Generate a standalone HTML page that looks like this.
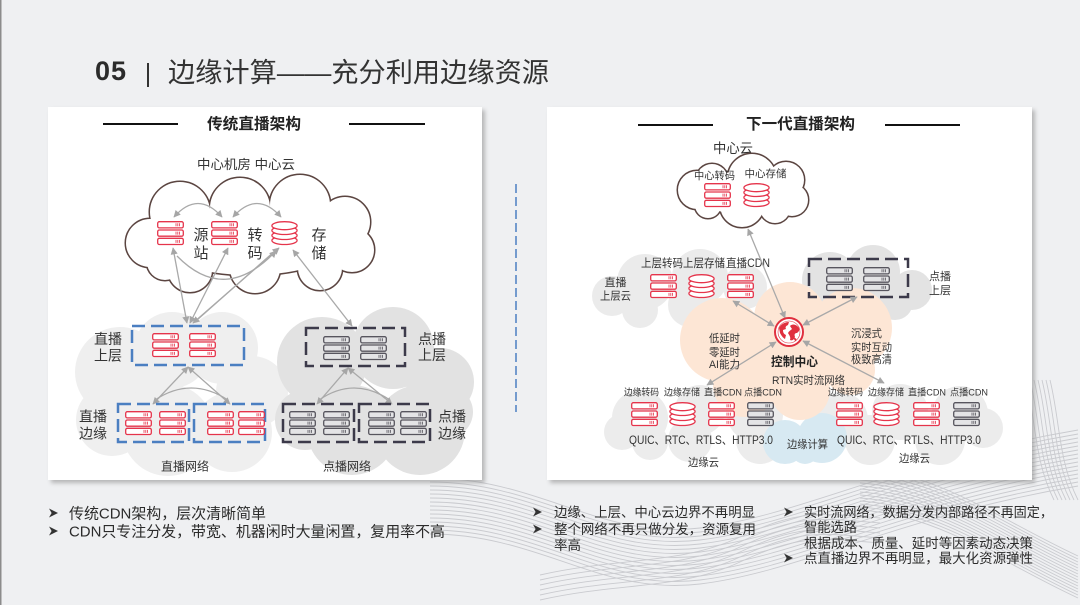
<!DOCTYPE html>
<html><head><meta charset="utf-8">
<style>
html,body{margin:0;padding:0;background:#eff0f2;}
body{width:1080px;height:605px;overflow:hidden;}
svg{display:block;font-family:"Liberation Sans","Noto Sans CJK SC",sans-serif;}
</style></head>
<body>
<svg width="1080" height="605" viewBox="0 0 1080 605" xmlns="http://www.w3.org/2000/svg" xmlns:xlink="http://www.w3.org/1999/xlink">
<defs>
  <filter id="sh" x="-5%" y="-5%" width="110%" height="110%"><feGaussianBlur stdDeviation="2"/></filter>
  <marker id="ah" viewBox="0 0 10 10" refX="9" refY="5" markerWidth="8" markerHeight="7" markerUnits="userSpaceOnUse" orient="auto-start-reverse">
    <path d="M0,0 L10,5 L0,10 z" fill="#a6a6a6"/>
  </marker>
  <g id="sr">
    <rect x="0.7" y="0.7" width="25.6" height="6.2" rx="1.6" fill="#fff" stroke="#e5344b" stroke-width="1.3"/>
    <rect x="0.7" y="9" width="25.6" height="6.2" rx="1.6" fill="#fff" stroke="#e5344b" stroke-width="1.3"/>
    <rect x="0.7" y="17.3" width="25.6" height="6.2" rx="1.6" fill="#fff" stroke="#e5344b" stroke-width="1.3"/>
    <path d="M19,2.3v3M20.8,2.3v3M22.6,2.3v3M19,10.6v3M20.8,10.6v3M22.6,10.6v3M19,18.9v3M20.8,18.9v3M22.6,18.9v3" stroke="#e5344b" stroke-width="0.8"/>
  </g>
  <g id="sg">
    <rect x="0.7" y="0.7" width="25.6" height="6.2" rx="1.6" fill="#e4e4e6" stroke="#57555e" stroke-width="1.3"/>
    <rect x="0.7" y="9" width="25.6" height="6.2" rx="1.6" fill="#e4e4e6" stroke="#57555e" stroke-width="1.3"/>
    <rect x="0.7" y="17.3" width="25.6" height="6.2" rx="1.6" fill="#e4e4e6" stroke="#57555e" stroke-width="1.3"/>
    <path d="M19,2.3v3M20.8,2.3v3M22.6,2.3v3M19,10.6v3M20.8,10.6v3M22.6,10.6v3M19,18.9v3M20.8,18.9v3M22.6,18.9v3" stroke="#57555e" stroke-width="0.8"/>
  </g>
  <g id="db" fill="#fff" stroke="#e5344b" stroke-width="1.3">
    <ellipse cx="13.5" cy="19.5" rx="12.6" ry="4"/>
    <ellipse cx="13.5" cy="14.5" rx="12.6" ry="4"/>
    <ellipse cx="13.5" cy="9.5" rx="12.6" ry="4"/>
    <ellipse cx="13.5" cy="4.7" rx="12.6" ry="4"/>
  </g>
  <path id="wa" d="M430,478 C540,478 600,540 700,528 S900,460 1078,430" fill="none" stroke="#c6c7cc" stroke-width="0.9"/>
  <path id="wb" d="M860,468 C940,473 1000,520 1078,556" fill="none" stroke="#c6c7cc" stroke-width="0.9"/>
  <path id="wc" d="M1050,380 C1060,420 1058,460 1078,500" fill="none" stroke="#c6c7cc" stroke-width="0.9"/>
  <path id="wd" d="M540,600 C620,582 680,590 740,562 S820,538 880,543" fill="none" stroke="#c6c7cc" stroke-width="0.9"/>
  <path id="bul" d="M0,0 L9,4.5 L0,9 L2.6,4.5 Z" fill="#333"/>
</defs>

<rect width="1080" height="605" fill="#eff0f2"/>
<rect x="0" y="0" width="1.5" height="605" fill="#8c8c8c"/>

<!-- decorative waves -->
<g opacity="0.9">
  <use href="#wa"/><use href="#wa" transform="translate(0,4)"/><use href="#wa" transform="translate(0,8)"/><use href="#wa" transform="translate(0,12)"/><use href="#wa" transform="translate(0,16)"/><use href="#wa" transform="translate(0,20)"/><use href="#wa" transform="translate(0,24)"/><use href="#wa" transform="translate(0,28)"/><use href="#wa" transform="translate(0,32)"/><use href="#wa" transform="translate(0,36)"/><use href="#wa" transform="translate(0,40)"/><use href="#wa" transform="translate(0,44)"/><use href="#wa" transform="translate(0,48)"/><use href="#wa" transform="translate(0,52)"/><use href="#wa" transform="translate(0,56)"/>
  <use href="#wb"/><use href="#wb" transform="translate(0,3)"/><use href="#wb" transform="translate(0,6)"/><use href="#wb" transform="translate(0,9)"/><use href="#wb" transform="translate(0,12)"/><use href="#wb" transform="translate(0,15)"/><use href="#wb" transform="translate(0,18)"/><use href="#wb" transform="translate(0,21)"/><use href="#wb" transform="translate(0,24)"/><use href="#wb" transform="translate(0,27)"/><use href="#wb" transform="translate(0,30)"/><use href="#wb" transform="translate(0,33)"/><use href="#wb" transform="translate(0,36)"/><use href="#wb" transform="translate(0,39)"/><use href="#wb" transform="translate(0,42)"/>
  <use href="#wc"/><use href="#wc" transform="translate(-4,0)"/><use href="#wc" transform="translate(-8,0)"/><use href="#wc" transform="translate(-12,0)"/><use href="#wc" transform="translate(-16,0)"/><use href="#wc" transform="translate(-20,0)"/><use href="#wc" transform="translate(-24,0)"/>
  <use href="#wd"/><use href="#wd" transform="translate(0,-5)"/><use href="#wd" transform="translate(0,-10)"/><use href="#wd" transform="translate(0,-15)"/><use href="#wd" transform="translate(0,-20)"/><use href="#wd" transform="translate(0,-25)"/>
</g>

<!-- title -->
<text x="95" y="80" font-size="27" font-weight="bold" fill="#2b2b2b" textLength="31">05</text>
<line x1="148" y1="63" x2="148" y2="87" stroke="#333" stroke-width="2"/>
<text x="168" y="82" font-size="27" fill="#333" textLength="381" lengthAdjust="spacingAndGlyphs">边缘计算——充分利用边缘资源</text>

<!-- panels -->
<rect x="51" y="110" width="434" height="373" fill="#8f8f8f" opacity="0.6" filter="url(#sh)"/>
<rect x="48" y="107" width="434" height="373" fill="#fff"/>
<rect x="550" y="110" width="485" height="373" fill="#8f8f8f" opacity="0.6" filter="url(#sh)"/>
<rect x="547" y="107" width="485" height="373" fill="#fff"/>

<!-- ============ LEFT PANEL ============ -->
<line x1="103" y1="124" x2="178" y2="124" stroke="#111" stroke-width="2"/>
<line x1="349" y1="124" x2="425" y2="124" stroke="#111" stroke-width="2"/>
<text x="254" y="129" font-size="15.5" font-weight="bold" fill="#222" text-anchor="middle" textLength="94" lengthAdjust="spacingAndGlyphs">传统直播架构</text>
<text x="246" y="169" font-size="13" fill="#333" text-anchor="middle" textLength="98" lengthAdjust="spacingAndGlyphs">中心机房 中心云</text>

<!-- top cloud outline -->
<g fill="#fff" stroke="#5b4541" stroke-width="3">
  <circle cx="150" cy="243" r="24"/><circle cx="180" cy="212" r="30"/><circle cx="240" cy="208" r="30"/>
  <circle cx="300" cy="205" r="30"/><circle cx="345" cy="222" r="25"/><circle cx="352" cy="250" r="22"/>
  <circle cx="320" cy="268" r="22"/><circle cx="255" cy="268" r="25"/><circle cx="190" cy="270" r="22"/>
  <circle cx="165" cy="262" r="18"/><ellipse cx="250" cy="240" rx="95" ry="35"/>
</g>
<g fill="#fff">
  <circle cx="150" cy="243" r="24"/><circle cx="180" cy="212" r="30"/><circle cx="240" cy="208" r="30"/>
  <circle cx="300" cy="205" r="30"/><circle cx="345" cy="222" r="25"/><circle cx="352" cy="250" r="22"/>
  <circle cx="320" cy="268" r="22"/><circle cx="255" cy="268" r="25"/><circle cx="190" cy="270" r="22"/>
  <circle cx="165" cy="262" r="18"/><ellipse cx="250" cy="240" rx="95" ry="35"/>
</g>

<!-- lower clouds -->
<g fill="#efefef">
  <circle cx="120" cy="372" r="45"/><circle cx="172" cy="350" r="38"/><circle cx="222" cy="348" r="36"/>
  <circle cx="252" cy="392" r="36"/><circle cx="112" cy="420" r="36"/><circle cx="168" cy="430" r="46"/>
  <circle cx="232" cy="432" r="40"/>
</g>
<g fill="#e2e2e2">
  <circle cx="322" cy="362" r="45"/><circle cx="393" cy="348" r="41"/><circle cx="440" cy="382" r="34"/>
  <circle cx="305" cy="420" r="30"/><circle cx="352" cy="430" r="45"/><circle cx="420" cy="430" r="45"/>
  <circle cx="447" cy="412" r="26"/>
</g>

<!-- top cloud icons -->
<use href="#sr" x="157" y="221"/>
<use href="#sr" x="211" y="221"/>
<use href="#db" x="271" y="221"/>
<g font-size="15" fill="#333" text-anchor="middle">
  <text x="201" y="240">源</text><text x="201" y="258">站</text>
  <text x="255" y="240">转</text><text x="255" y="258">码</text>
  <text x="319" y="240">存</text><text x="319" y="258">储</text>
</g>

<!-- left arrows -->
<g fill="none" stroke="#a9a9a9" stroke-width="1.3">
  <path d="M174,217 Q198,190 222,217" marker-start="url(#ah)" marker-end="url(#ah)"/>
  <path d="M233,217 Q257,190 281,217" marker-start="url(#ah)" marker-end="url(#ah)"/>
  <path d="M177,256 Q225,305 276,251" marker-end="url(#ah)"/>
  <line x1="173" y1="248" x2="187" y2="323" marker-start="url(#ah)" marker-end="url(#ah)"/>
  <line x1="228" y1="248" x2="190" y2="323" marker-start="url(#ah)" marker-end="url(#ah)"/>
  <line x1="279" y1="248" x2="193" y2="323" marker-start="url(#ah)" marker-end="url(#ah)"/>
  <line x1="276" y1="250" x2="197" y2="320"/>
  <line x1="293" y1="250" x2="352" y2="326" marker-start="url(#ah)" marker-end="url(#ah)"/>
  <line x1="188" y1="367" x2="153" y2="404" marker-start="url(#ah)" marker-end="url(#ah)"/>
  <line x1="188" y1="367" x2="230" y2="404" marker-start="url(#ah)" marker-end="url(#ah)"/>
  <path d="M155,400 Q191,376 228,400"/>
  <line x1="348" y1="368" x2="317" y2="404" marker-start="url(#ah)" marker-end="url(#ah)"/>
  <line x1="348" y1="368" x2="392" y2="404" marker-start="url(#ah)" marker-end="url(#ah)"/>
  <path d="M319,400 Q354,376 390,400"/>
</g>

<!-- boxes -->
<g fill="none" stroke-width="2.5" stroke-dasharray="13 6">
  <rect x="132" y="326" width="112" height="39" stroke="#4b7fc1"/>
  <rect x="118" y="404" width="71" height="38" stroke="#4b7fc1"/>
  <rect x="194" y="404" width="71" height="38" stroke="#4b7fc1"/>
  <rect x="306" y="328" width="99" height="38" stroke="#3c3a4a"/>
  <rect x="283" y="404" width="71" height="38" stroke="#3c3a4a"/>
  <rect x="359" y="404" width="71" height="38" stroke="#3c3a4a"/>
</g>
<use href="#sr" x="152" y="333"/><use href="#sr" x="189" y="333"/>
<use href="#sg" x="323" y="336"/><use href="#sg" x="360" y="336"/>
<use href="#sr" x="125" y="411"/><use href="#sr" x="159" y="411"/>
<use href="#sr" x="207" y="411"/><use href="#sr" x="238" y="411"/>
<use href="#sg" x="289" y="411"/><use href="#sg" x="323" y="411"/>
<use href="#sg" x="368" y="411"/><use href="#sg" x="400" y="411"/>

<g font-size="14" fill="#333" text-anchor="middle">
  <text x="108" y="344">直播</text><text x="108" y="360.5">上层</text>
  <text x="432" y="344">点播</text><text x="432" y="360">上层</text>
  <text x="93" y="421.5">直播</text><text x="93" y="438.5">边缘</text>
  <text x="452" y="421.5">点播</text><text x="452" y="438.5">边缘</text>
</g>
<g font-size="12" fill="#333" text-anchor="middle">
  <text x="185" y="470.5">直播网络</text>
  <text x="347" y="470.5">点播网络</text>
</g>

<!-- divider -->
<line x1="516" y1="184" x2="516" y2="412" stroke="#4b7fc1" stroke-width="1.5" stroke-dasharray="9 4"/>

<!-- ============ RIGHT PANEL ============ -->
<line x1="638" y1="125" x2="713" y2="125" stroke="#111" stroke-width="2"/>
<line x1="885" y1="125" x2="960" y2="125" stroke="#111" stroke-width="2"/>
<text x="800.5" y="129" font-size="15.5" font-weight="bold" fill="#222" text-anchor="middle" textLength="109" lengthAdjust="spacingAndGlyphs">下一代直播架构</text>
<text x="733" y="153" font-size="13.5" fill="#333" text-anchor="middle" textLength="40" lengthAdjust="spacingAndGlyphs">中心云</text>

<!-- center cloud -->
<g fill="#fff" stroke="#5b4541" stroke-width="3">
  <circle cx="697" cy="190" r="19"/><circle cx="712" cy="180" r="16"/><circle cx="752" cy="178" r="24"/>
  <circle cx="786" cy="180" r="18"/><circle cx="792" cy="200" r="16"/><circle cx="775" cy="208" r="15"/>
  <circle cx="742" cy="205" r="22"/><circle cx="708" cy="205" r="13"/><ellipse cx="745" cy="193" rx="45" ry="22"/>
</g>
<g fill="#fff">
  <circle cx="697" cy="190" r="19"/><circle cx="712" cy="180" r="16"/><circle cx="752" cy="178" r="24"/>
  <circle cx="786" cy="180" r="18"/><circle cx="792" cy="200" r="16"/><circle cx="775" cy="208" r="15"/>
  <circle cx="742" cy="205" r="22"/><circle cx="708" cy="205" r="13"/><ellipse cx="745" cy="193" rx="45" ry="22"/>
</g>
<g font-size="10.5" fill="#333" text-anchor="middle">
  <text x="714.5" y="179" textLength="41" lengthAdjust="spacingAndGlyphs">中心转码</text>
  <text x="765.5" y="177" textLength="42" lengthAdjust="spacingAndGlyphs">中心存储</text>
</g>
<use href="#sr" x="704" y="183"/>
<use href="#db" x="743" y="183"/>

<!-- upper clouds -->
<g fill="#ebebeb">
  <circle cx="612" cy="296" r="20"/><circle cx="645" cy="282" r="28"/><circle cx="700" cy="277" r="28"/>
  <circle cx="745" cy="287" r="22"/><circle cx="690" cy="305" r="22"/><circle cx="640" cy="310" r="18"/>
</g>
<g fill="#e3e3e3">
  <circle cx="830" cy="280" r="28"/><circle cx="873" cy="272" r="27"/><circle cx="912" cy="290" r="20"/>
  <circle cx="850" cy="300" r="22"/><circle cx="895" cy="302" r="18"/>
</g>

<!-- bottom clouds -->
<g fill="#ececec">
  <circle cx="640" cy="418" r="28"/><circle cx="700" cy="410" r="25"/><circle cx="755" cy="414" r="28"/>
  <circle cx="622" cy="432" r="18"/><circle cx="690" cy="440" r="22"/><circle cx="760" cy="440" r="24"/><circle cx="650" cy="442" r="18"/>
  <circle cx="840" cy="420" r="28"/><circle cx="900" cy="412" r="28"/><circle cx="960" cy="414" r="28"/>
  <circle cx="983" cy="428" r="20"/><circle cx="870" cy="440" r="25"/><circle cx="940" cy="440" r="25"/>
</g>
<g fill="#d7e9f2">
  <circle cx="785" cy="442" r="22"/><circle cx="822" cy="438" r="25"/><circle cx="805" cy="450" r="14"/>
</g>
<!-- peach cloud -->
<g fill="#fde6d5">
  <circle cx="722" cy="340" r="42"/><circle cx="790" cy="318" r="36"/><circle cx="852" cy="328" r="40"/>
  <circle cx="745" cy="385" r="32"/><circle cx="800" cy="390" r="30"/><circle cx="850" cy="370" r="25"/>
  <ellipse cx="790" cy="350" rx="60" ry="40"/>
</g>

<!-- upper labels/icons -->
<g font-size="11.5" fill="#333">
  <text x="641" y="267" textLength="42" lengthAdjust="spacingAndGlyphs">上层转码</text>
  <text x="683" y="267" textLength="42" lengthAdjust="spacingAndGlyphs">上层存储</text>
  <text x="726" y="267" textLength="44" lengthAdjust="spacingAndGlyphs">直播CDN</text>
</g>
<g font-size="11" fill="#333" text-anchor="middle">
  <text x="615.5" y="286">直播</text><text x="615.5" y="299.5" textLength="31" lengthAdjust="spacingAndGlyphs">上层云</text>
  <text x="940" y="280">点播</text><text x="940" y="294">上层</text>
</g>
<use href="#sr" x="650" y="274"/><use href="#db" x="688" y="274"/><use href="#sr" x="727" y="274"/>
<rect x="809" y="259" width="99" height="38" fill="none" stroke="#3c3a4a" stroke-width="2.5" stroke-dasharray="13 6"/>
<use href="#sg" x="826" y="267"/><use href="#sg" x="863" y="267"/>

<!-- right arrows -->
<g fill="none" stroke="#a9a9a9" stroke-width="1.3">
  <line x1="748" y1="229" x2="785" y2="318" marker-start="url(#ah)" marker-end="url(#ah)"/>
  <line x1="733" y1="301" x2="774" y2="326" marker-start="url(#ah)" marker-end="url(#ah)"/>
  <line x1="857" y1="297" x2="803" y2="325" marker-start="url(#ah)" marker-end="url(#ah)"/>
  <line x1="776" y1="342" x2="707" y2="385" marker-start="url(#ah)" marker-end="url(#ah)"/>
  <line x1="803" y1="341" x2="884" y2="383" marker-start="url(#ah)" marker-end="url(#ah)"/>
</g>

<!-- globe -->
<g transform="translate(789,332)">
  <circle r="14" fill="#fff" stroke="#e0303f" stroke-width="2"/>
  <circle r="11" fill="none" stroke="#e0303f" stroke-width="0.6"/>
  <path d="M-10,-4 C-8,-8 -4,-10 0,-10 L-1,-7 C-3,-6 -4,-5 -3,-3 L-6,-2 C-6,1 -5,2 -3,3 L-4,7 C-6,6 -8,3 -9,1 Z" fill="#e0303f"/>
  <path d="M1,-6 C4,-9 8,-7 10,-4 C11,-1 9,0 8,1 C6,1 5,2 6,5 C5,8 3,9 1,8 C2,5 0,3 -1,1 C0,-1 2,-2 3,-3 Z" fill="#e0303f"/>
  <path d="M5,6 C7,6 8,7 7,9 C6,9 5,8 5,6 Z" fill="#e0303f"/>
</g>
<text x="771" y="366" font-size="12.5" font-weight="bold" fill="#222" textLength="47" lengthAdjust="spacingAndGlyphs">控制中心</text>
<g font-size="11" fill="#333">
  <text x="709" y="342" textLength="31" lengthAdjust="spacingAndGlyphs">低延时</text>
  <text x="709" y="356" textLength="31" lengthAdjust="spacingAndGlyphs">零延时</text>
  <text x="709" y="368" textLength="31" lengthAdjust="spacingAndGlyphs">AI能力</text>
  <text x="851" y="337" textLength="31" lengthAdjust="spacingAndGlyphs">沉浸式</text>
  <text x="851" y="351" textLength="41" lengthAdjust="spacingAndGlyphs">实时互动</text>
  <text x="851" y="363" textLength="41" lengthAdjust="spacingAndGlyphs">极致高清</text>
  <text x="772" y="384" textLength="73" lengthAdjust="spacingAndGlyphs">RTN实时流网络</text>
</g>

<!-- edge labels -->
<g font-size="9.5" fill="#333">
  <text x="624" y="395.5" textLength="35" lengthAdjust="spacingAndGlyphs">边缘转码</text>
  <text x="664" y="395.5" textLength="36" lengthAdjust="spacingAndGlyphs">边缘存储</text>
  <text x="704" y="395.5" textLength="38" lengthAdjust="spacingAndGlyphs">直播CDN</text>
  <text x="744" y="395.5" textLength="38" lengthAdjust="spacingAndGlyphs">点播CDN</text>
  <text x="828" y="395.5" textLength="35" lengthAdjust="spacingAndGlyphs">边缘转码</text>
  <text x="868" y="395.5" textLength="36" lengthAdjust="spacingAndGlyphs">边缘存储</text>
  <text x="908" y="395.5" textLength="38" lengthAdjust="spacingAndGlyphs">直播CDN</text>
  <text x="950" y="395.5" textLength="38" lengthAdjust="spacingAndGlyphs">点播CDN</text>
</g>
<use href="#sr" x="631" y="402"/><use href="#db" x="669" y="402"/><use href="#sr" x="708" y="402"/><use href="#sg" x="747" y="402"/>
<use href="#sr" x="836" y="402"/><use href="#db" x="873" y="402"/><use href="#sr" x="913" y="402"/><use href="#sg" x="953" y="402"/>
<g font-size="12" fill="#333">
  <text x="629" y="444" textLength="144" lengthAdjust="spacingAndGlyphs">QUIC、RTC、RTLS、HTTP3.0</text>
  <text x="837" y="444" textLength="144" lengthAdjust="spacingAndGlyphs">QUIC、RTC、RTLS、HTTP3.0</text>
</g>
<g font-size="11" fill="#333">
  <text x="787" y="448" textLength="41" lengthAdjust="spacingAndGlyphs">边缘计算</text>
  <text x="688" y="466" textLength="31" lengthAdjust="spacingAndGlyphs">边缘云</text>
  <text x="899" y="462" textLength="31" lengthAdjust="spacingAndGlyphs">边缘云</text>
</g>

<!-- bottom bullet text -->
<use href="#bul" x="49" y="508.5"/>
<use href="#bul" x="49" y="526.5"/>
<g font-size="15" fill="#2b2b2b">
  <text x="69" y="518.5" textLength="197" lengthAdjust="spacingAndGlyphs">传统CDN架构，层次清晰简单</text>
  <text x="69" y="536.5" textLength="376" lengthAdjust="spacingAndGlyphs">CDN只专注分发，带宽、机器闲时大量闲置，复用率不高</text>
</g>
<use href="#bul" x="533" y="507.5"/>
<use href="#bul" x="533" y="524.5"/>
<use href="#bul" x="784" y="507.5"/>
<use href="#bul" x="784" y="553.5"/>
<g font-size="13.5" fill="#2b2b2b">
  <text x="554" y="517" textLength="201" lengthAdjust="spacingAndGlyphs">边缘、上层、中心云边界不再明显</text>
  <text x="554" y="534" textLength="202" lengthAdjust="spacingAndGlyphs">整个网络不再只做分发，资源复用</text>
  <text x="554" y="550" textLength="27" lengthAdjust="spacingAndGlyphs">率高</text>
  <text x="804" y="517" textLength="249" lengthAdjust="spacingAndGlyphs">实时流网络，数据分发内部路径不再固定，</text>
  <text x="804" y="532" textLength="53" lengthAdjust="spacingAndGlyphs">智能选路</text>
  <text x="804" y="548" textLength="229" lengthAdjust="spacingAndGlyphs">根据成本、质量、延时等因素动态决策</text>
  <text x="804" y="563" textLength="229" lengthAdjust="spacingAndGlyphs">点直播边界不再明显，最大化资源弹性</text>
</g>
</svg>
</body></html>
